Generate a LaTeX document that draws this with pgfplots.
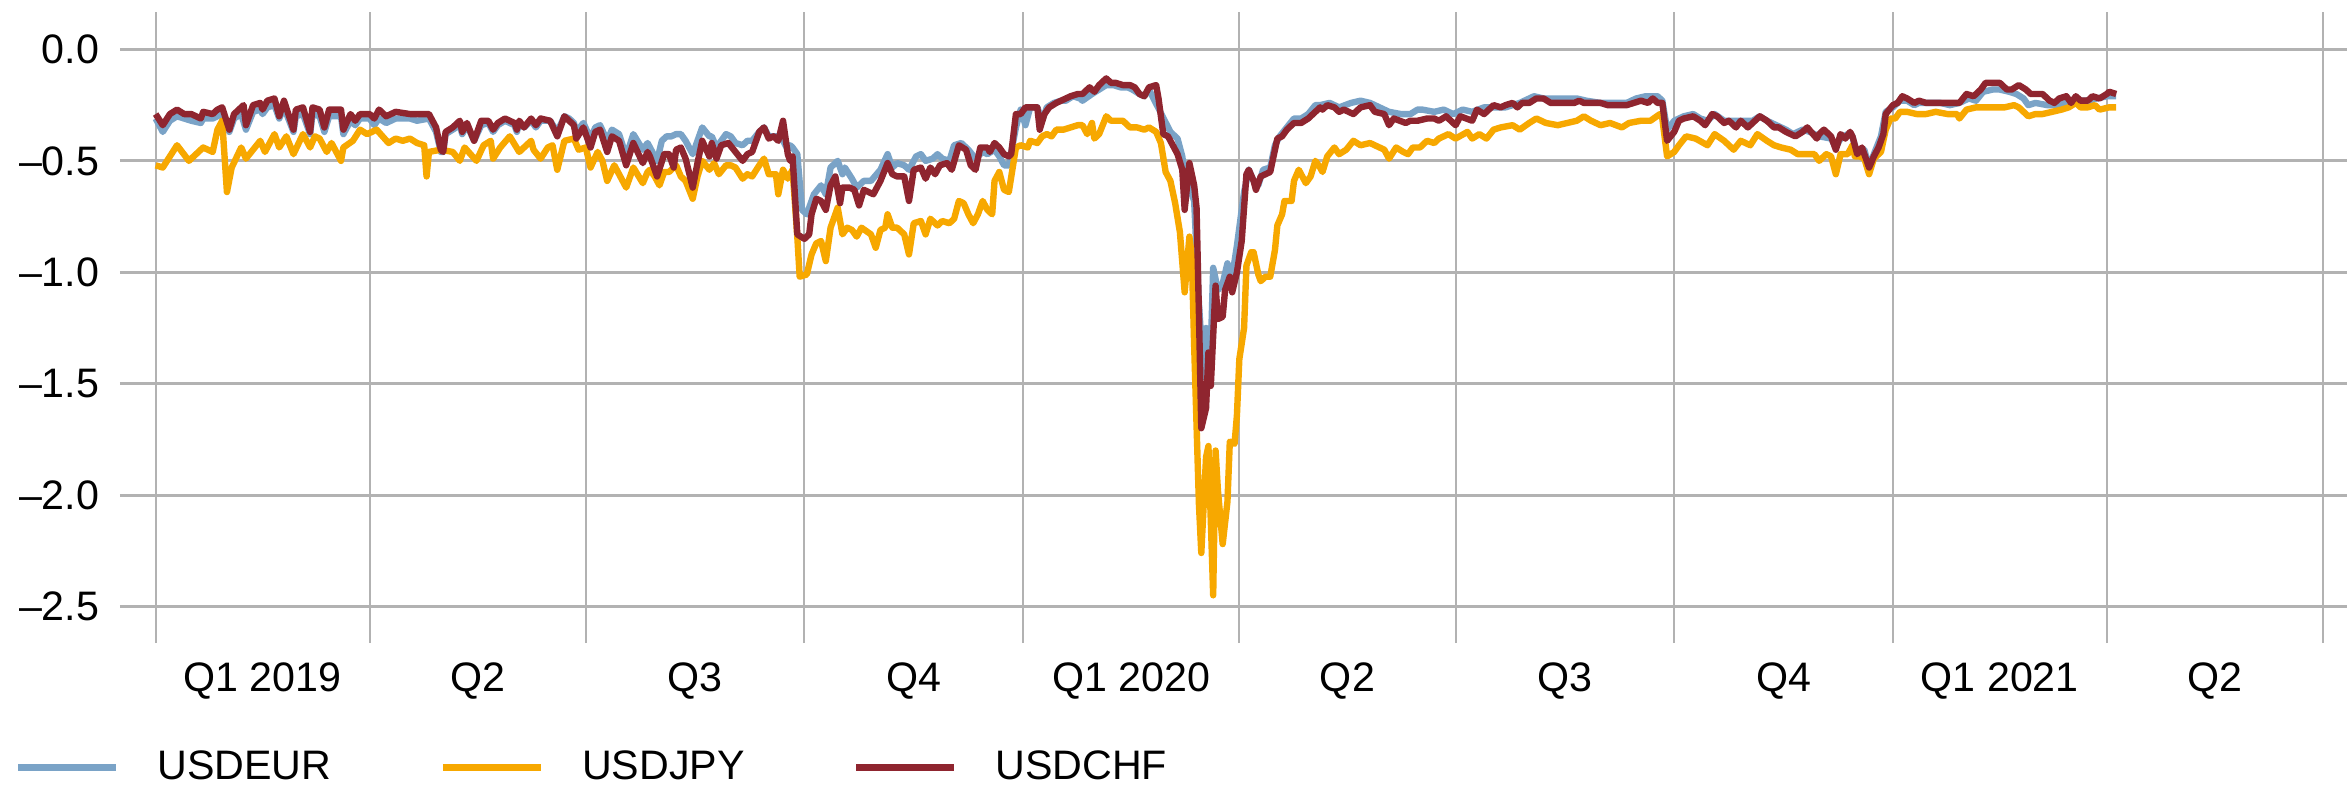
\documentclass[border=0pt]{standalone}
\usepackage{fontspec}
\setmainfont{Liberation Sans}
\usepackage{pgfplots}
\pgfplotsset{compat=1.18}
\definecolor{ceur}{RGB}{122,163,199}
\definecolor{cjpy}{RGB}{247,168,0}
\definecolor{cchf}{RGB}{143,37,47}
\definecolor{cgrid}{RGB}{178,178,178}
\begin{document}
\begin{tikzpicture}
\begin{axis}[
  at={(30pt,35.75pt)}, anchor=south west,
  scale only axis, width=556.75pt, height=157.75pt,
  xmin=-15, xmax=922.1, ymin=-2.664, ymax=0.168,
  axis line style={draw=none},
  major tick length=0pt, minor tick length=0pt,
  xtick={45,135.5,227,319,410.5,501.5,593,685,776,866.5},
  xticklabels={Q1 2019,Q2,Q3,Q4,Q1 2020,Q2,Q3,Q4,Q1 2021,Q2},
  minor xtick={0,90,181,273,365,456,547,639,731,821,912},
  xmajorgrids=false, xminorgrids=true,
  ytick={-2.5,-2,-1.5,-1,-0.5,0},
  yticklabels={–2.5,–2.0,–1.5,–1.0,–0.5,0.0},
  ymajorgrids=true,
  major grid style={draw=cgrid, line width=0.75pt},
  minor grid style={draw=cgrid, line width=0.5pt},
  tick label style={font=\fontsize{10.3}{12}\selectfont, inner sep=0pt},
  xticklabel style={anchor=north, yshift=-4.75pt},
  yticklabel style={anchor=east, xshift=-5pt},
  legend columns=3,
  legend style={at={(axis description cs:-0.04715,-0.1976)}, anchor=west,
    draw=none, fill=none, inner sep=0pt, outer sep=0pt,
    font=\fontsize{10.3}{12}\selectfont,
    nodes={inner sep=0pt},
    /tikz/every odd column/.append style={column sep=9.5pt},
    /tikz/every even column/.append style={column sep=27.1pt}},
  legend image code/.code={\draw[#1] (0pt,0pt) -- (24.5pt,0pt);},
  every axis plot/.append style={line width=1.6pt, line join=round},
]
\addplot[ceur] coordinates {
(0,-0.31)(3,-0.37)(6,-0.32)(9,-0.30)(12,-0.31)(15,-0.32)(19,-0.33)(20,-0.31)(24,-0.31)(26,-0.30)(28,-0.29)(31,-0.37)(33,-0.31)(36,-0.29)(38,-0.36)(41,-0.28)(44,-0.27)(45,-0.29)(47,-0.26)(50,-0.25)(52,-0.31)(54,-0.26)(58,-0.37)(59,-0.30)(62,-0.29)(65,-0.38)(66,-0.29)(69,-0.30)(71,-0.37)(73,-0.30)(78,-0.30)(79,-0.38)(82,-0.32)(84,-0.34)(86,-0.31)(90,-0.31)(92,-0.34)(94,-0.31)(97,-0.33)(101,-0.31)(107,-0.31)(110,-0.32)(115,-0.31)(118,-0.37)(120,-0.46)(121,-0.46)(122,-0.38)(125,-0.36)(128,-0.34)(129,-0.38)(131,-0.34)(134,-0.41)(137,-0.34)(140,-0.33)(142,-0.37)(144,-0.34)(147,-0.32)(151,-0.34)(152,-0.37)(153,-0.33)(155,-0.35)(158,-0.32)(160,-0.35)(162,-0.32)(166,-0.32)(169,-0.37)(172,-0.30)(174,-0.31)(176,-0.33)(177,-0.37)(180,-0.33)(183,-0.40)(185,-0.35)(187,-0.34)(190,-0.41)(192,-0.36)(195,-0.38)(198,-0.48)(201,-0.38)(205,-0.45)(207,-0.42)(208,-0.44)
(211,-0.50)(213,-0.41)(215,-0.39)(217,-0.39)(219,-0.38)(221,-0.38)(223,-0.41)(226,-0.47)(228,-0.41)(230,-0.35)(233,-0.39)(234,-0.39)(236,-0.44)(238,-0.41)(240,-0.38)(242,-0.39)(244,-0.42)(247,-0.43)(249,-0.41)(251,-0.41)(254,-0.37)(256,-0.35)(258,-0.39)(261,-0.39)(263,-0.39)(266,-0.45)(267,-0.43)(268,-0.44)(270,-0.47)(272,-0.72)(274,-0.74)(277,-0.65)(280,-0.61)(282,-0.65)(284,-0.53)(287,-0.50)(289,-0.56)(290,-0.53)(293,-0.58)(295,-0.62)(298,-0.59)(301,-0.59)(305,-0.54)(308,-0.47)(310,-0.53)(312,-0.51)(315,-0.52)(317,-0.54)(320,-0.48)(322,-0.47)(324,-0.50)(327,-0.49)(329,-0.47)(331,-0.49)(334,-0.50)(336,-0.43)(339,-0.42)(342,-0.45)(345,-0.49)(348,-0.46)(350,-0.47)(353,-0.45)(355,-0.48)(357,-0.52)(359,-0.52)(362,-0.35)(364,-0.27)(366,-0.34)(368,-0.26)(371,-0.26)(373,-0.32)(375,-0.26)(378,-0.24)(381,-0.23)(383,-0.23)(386,-0.21)(389,-0.22)(390,-0.23)(394,-0.20)(397,-0.18)(400,-0.16)(403,-0.16)(406,-0.17)(409,-0.17)(411,-0.18)(414,-0.20)(416,-0.21)(418,-0.18)
(427,-0.37)(430,-0.40)(432,-0.48)(433,-0.56)(437,-0.68)(439,-1.14)(441,-1.47)(442,-1.25)(444,-1.35)(445,-0.98)(447,-1.08)(449,-1.05)(451,-0.96)(453,-1.02)(455,-0.88)(458,-0.64)(460,-0.54)(462,-0.59)(464,-0.61)(466,-0.54)(469,-0.53)(471,-0.43)(473,-0.39)(476,-0.35)(479,-0.31)(482,-0.31)(485,-0.29)(488,-0.25)
(490,-0.25)(494,-0.24)(498,-0.26)(503,-0.24)(507,-0.23)(511,-0.24)(515,-0.26)(519,-0.28)(524,-0.29)(528,-0.29)(531,-0.27)(533,-0.27)(538,-0.28)(542,-0.27)(546,-0.29)(550,-0.27)(554,-0.28)(559,-0.26)(563,-0.26)(568,-0.26)(574,-0.24)(580,-0.21)(584,-0.22)(588,-0.22)(592,-0.22)(598,-0.22)(602,-0.23)(608,-0.24)(613,-0.24)(619,-0.24)(623,-0.22)(627,-0.21)(632,-0.21)(634,-0.23)(636,-0.36)(639,-0.32)(643,-0.30)(647,-0.29)(650,-0.31)(653,-0.32)(656,-0.29)(660,-0.32)(664,-0.32)(668,-0.32)(672,-0.32)(675,-0.30)(678,-0.32)(682,-0.34)(686,-0.36)(689,-0.38)(693,-0.36)(696,-0.37)(700,-0.39)
(705,-0.40)(707,-0.44)(709,-0.40)(712,-0.38)(714,-0.39)(716,-0.47)(719,-0.45)(721,-0.53)(723,-0.47)(726,-0.39)(728,-0.28)(731,-0.26)(734,-0.23)(737,-0.23)(740,-0.25)(742,-0.24)(747,-0.24)(751,-0.24)(755,-0.25)(759,-0.24)(763,-0.22)(766,-0.23)(769,-0.19)(773,-0.18)(776,-0.18)(780,-0.19)(783,-0.20)(786,-0.22)(788,-0.25)(791,-0.24)(796,-0.25)(800,-0.25)(804,-0.24)(808,-0.23)(813,-0.23)(817,-0.22)(821,-0.21)(825,-0.21)
};
\addlegendentry{USDEUR}
\addplot[cjpy] coordinates {
(0,-0.52)(3,-0.53)(9,-0.43)(14,-0.50)(20,-0.44)(24,-0.46)(26,-0.36)(28,-0.32)(30,-0.64)(32,-0.53)(36,-0.44)(38,-0.49)(41,-0.45)(44,-0.41)(46,-0.46)(50,-0.38)(52,-0.44)(55,-0.39)(58,-0.47)(62,-0.38)(65,-0.44)(67,-0.39)(69,-0.40)(72,-0.46)(74,-0.42)(78,-0.50)(79,-0.44)(83,-0.41)(86,-0.36)(89,-0.38)(93,-0.36)(98,-0.42)(101,-0.40)(104,-0.41)(107,-0.40)(110,-0.42)(113,-0.43)(114,-0.57)(115,-0.46)(120,-0.45)(125,-0.46)(128,-0.50)(130,-0.44)(135,-0.50)(138,-0.43)(141,-0.41)(142,-0.49)(145,-0.44)(149,-0.39)(153,-0.46)(158,-0.41)(159,-0.45)(162,-0.49)(165,-0.44)(167,-0.43)(169,-0.54)(172,-0.41)(176,-0.40)(178,-0.45)(181,-0.44)(183,-0.53)(186,-0.46)(188,-0.50)(190,-0.59)(193,-0.52)(195,-0.56)(198,-0.62)(201,-0.53)(205,-0.60)(207,-0.55)(208,-0.54)
(210,-0.57)(212,-0.61)(214,-0.55)(216,-0.55)(219,-0.52)(221,-0.57)(223,-0.59)(226,-0.67)(228,-0.57)(230,-0.50)(233,-0.54)(235,-0.51)(237,-0.56)(240,-0.52)(242,-0.52)(244,-0.53)(247,-0.58)(249,-0.56)(251,-0.57)(254,-0.52)(256,-0.49)(258,-0.56)(261,-0.56)(262,-0.65)(264,-0.54)(266,-0.58)(268,-0.54)(270,-0.84)(271,-1.02)(274,-1.01)(276,-0.92)(278,-0.87)(280,-0.86)(282,-0.95)(284,-0.80)(287,-0.71)(289,-0.83)(291,-0.80)(293,-0.81)(295,-0.84)(297,-0.80)(301,-0.83)(303,-0.89)(305,-0.81)(307,-0.80)(308,-0.74)(310,-0.80)(312,-0.80)(315,-0.83)(317,-0.92)(319,-0.78)(322,-0.77)(324,-0.83)(326,-0.76)(329,-0.79)(331,-0.77)(334,-0.78)(336,-0.76)(338,-0.68)(340,-0.69)(342,-0.74)(344,-0.78)(346,-0.74)(348,-0.68)(350,-0.72)(352,-0.74)(353,-0.59)(355,-0.55)(357,-0.63)(359,-0.64)(362,-0.44)(364,-0.43)(367,-0.44)(368,-0.41)(371,-0.42)(373,-0.39)(375,-0.38)(377,-0.39)(379,-0.36)(382,-0.36)(385,-0.35)(388,-0.34)(390,-0.34)(392,-0.38)(394,-0.33)(395,-0.40)(397,-0.38)(400,-0.30)(402,-0.32)(404,-0.32)(407,-0.32)(410,-0.35)(413,-0.35)(416,-0.36)(418,-0.35)
(421,-0.37)(423,-0.42)(425,-0.55)(427,-0.59)(429,-0.69)(431,-0.82)(433,-1.09)(435,-0.84)(436,-0.93)(437,-1.33)(439,-2.04)(440,-2.26)(442,-1.83)(443,-1.78)(445,-2.45)(446,-1.80)(447,-1.98)(449,-2.22)(451,-2.03)(452,-1.76)(454,-1.77)(455,-1.64)(456,-1.39)(458,-1.25)(459,-0.97)(461,-0.91)(462,-0.91)(464,-1.01)(465,-1.04)(467,-1.02)(469,-1.02)(471,-0.90)(472,-0.79)(474,-0.74)(475,-0.68)(478,-0.68)(479,-0.59)(481,-0.54)(484,-0.60)(486,-0.57)(488,-0.50)
(490,-0.53)(491,-0.55)(493,-0.48)(496,-0.44)(498,-0.47)(501,-0.45)(504,-0.41)(507,-0.43)(511,-0.42)(515,-0.44)(517,-0.45)(519,-0.49)(522,-0.44)(525,-0.46)(527,-0.47)(529,-0.44)(532,-0.44)(535,-0.41)(538,-0.42)(540,-0.40)(544,-0.38)(547,-0.40)(552,-0.37)(554,-0.40)(557,-0.38)(560,-0.40)(563,-0.36)(566,-0.35)(571,-0.34)(574,-0.36)(578,-0.33)(581,-0.31)(585,-0.33)(590,-0.34)(594,-0.33)(598,-0.32)(601,-0.30)(604,-0.32)(608,-0.34)(612,-0.33)(617,-0.35)(620,-0.33)(625,-0.32)(629,-0.32)(633,-0.29)(634,-0.31)(636,-0.48)(639,-0.46)(641,-0.43)(644,-0.39)(648,-0.40)(653,-0.43)(656,-0.38)(660,-0.41)(664,-0.45)(667,-0.41)(671,-0.43)(674,-0.38)(678,-0.41)(681,-0.43)(684,-0.44)(688,-0.45)(691,-0.47)(695,-0.47)(698,-0.47)(700,-0.50)
(703,-0.47)(705,-0.48)(707,-0.56)(709,-0.47)(712,-0.47)(714,-0.43)(715,-0.48)(717,-0.48)(719,-0.49)(721,-0.56)(723,-0.49)(726,-0.46)(728,-0.36)(730,-0.31)(732,-0.31)(734,-0.28)(737,-0.28)(741,-0.29)(745,-0.29)(749,-0.28)(754,-0.29)(758,-0.29)(759,-0.31)(762,-0.27)(766,-0.26)(770,-0.26)(775,-0.26)(778,-0.26)(782,-0.25)(784,-0.26)(788,-0.30)(791,-0.29)(794,-0.29)(798,-0.28)(802,-0.27)(805,-0.26)(808,-0.24)(810,-0.26)(813,-0.26)(816,-0.25)(818,-0.27)(822,-0.26)(825,-0.26)
};
\addlegendentry{USDJPY}
\addplot[cchf] coordinates {
(0,-0.29)(3,-0.34)(6,-0.29)(9,-0.27)(12,-0.29)(15,-0.29)(19,-0.31)(20,-0.28)(24,-0.29)(26,-0.27)(28,-0.26)(31,-0.36)(33,-0.29)(36,-0.26)(37,-0.25)(38,-0.34)(41,-0.25)(44,-0.24)(45,-0.27)(47,-0.23)(50,-0.22)(52,-0.30)(54,-0.23)(58,-0.36)(59,-0.27)(62,-0.26)(65,-0.37)(66,-0.26)(69,-0.27)(71,-0.35)(73,-0.27)(78,-0.27)(79,-0.36)(82,-0.29)(84,-0.32)(86,-0.29)(90,-0.29)(92,-0.31)(94,-0.27)(97,-0.30)(101,-0.28)(107,-0.29)(110,-0.29)(115,-0.29)(118,-0.35)(120,-0.45)(121,-0.46)(122,-0.37)(125,-0.35)(128,-0.32)(129,-0.37)(131,-0.33)(134,-0.41)(137,-0.32)(140,-0.32)(142,-0.36)(144,-0.33)(147,-0.31)(151,-0.33)(152,-0.36)(153,-0.32)(155,-0.35)(158,-0.31)(160,-0.34)(162,-0.31)(166,-0.32)(169,-0.39)(172,-0.30)(174,-0.32)(176,-0.34)(177,-0.40)(180,-0.35)(183,-0.44)(185,-0.37)(187,-0.36)(190,-0.46)(192,-0.39)(195,-0.41)(198,-0.52)(201,-0.42)(205,-0.51)(207,-0.46)(208,-0.48)
(211,-0.57)(214,-0.47)(216,-0.47)(218,-0.53)(219,-0.45)(221,-0.44)(223,-0.49)(226,-0.62)(228,-0.51)(230,-0.41)(233,-0.48)(234,-0.42)(236,-0.49)(238,-0.43)(241,-0.42)(244,-0.46)(247,-0.50)(249,-0.47)(251,-0.46)(254,-0.37)(256,-0.35)(258,-0.40)(260,-0.39)(262,-0.41)(264,-0.32)(266,-0.47)(267,-0.50)(268,-0.48)(270,-0.83)(273,-0.85)(275,-0.83)(276,-0.74)(278,-0.67)(280,-0.68)(282,-0.72)(284,-0.61)(286,-0.57)(288,-0.69)(289,-0.62)(292,-0.62)(294,-0.63)(296,-0.70)(298,-0.63)(300,-0.64)(302,-0.65)(305,-0.59)(308,-0.51)(310,-0.56)(312,-0.57)(315,-0.57)(317,-0.68)(319,-0.54)(322,-0.53)(324,-0.58)(326,-0.53)(328,-0.56)(330,-0.52)(333,-0.51)(335,-0.54)(338,-0.43)(341,-0.45)(343,-0.52)(345,-0.54)(347,-0.44)(350,-0.44)(351,-0.46)(353,-0.42)(355,-0.44)(357,-0.47)(359,-0.48)(360,-0.47)(362,-0.29)(364,-0.29)(366,-0.26)(368,-0.26)(371,-0.26)(372,-0.36)(374,-0.29)(376,-0.26)(379,-0.24)(381,-0.23)(385,-0.21)(388,-0.20)(390,-0.20)(393,-0.17)(395,-0.19)(397,-0.16)(400,-0.13)(402,-0.15)(404,-0.15)(407,-0.16)(410,-0.16)(412,-0.17)(414,-0.20)(416,-0.21)(418,-0.17)
(421,-0.16)(422,-0.22)(424,-0.38)(426,-0.39)(428,-0.43)(430,-0.47)(432,-0.54)(433,-0.72)(435,-0.51)(437,-0.61)(438,-0.71)(439,-1.18)(440,-1.70)(442,-1.61)(443,-1.36)(444,-1.51)(446,-1.06)(447,-1.21)(449,-1.20)(450,-1.08)(452,-1.02)(453,-1.09)(455,-1.00)(457,-0.86)(459,-0.56)(460,-0.54)(462,-0.59)(463,-0.63)(465,-0.57)(467,-0.56)(469,-0.55)(471,-0.45)(472,-0.40)(474,-0.39)(476,-0.36)(479,-0.33)(482,-0.33)(485,-0.31)(488,-0.28)
(490,-0.26)(491,-0.27)(493,-0.25)(496,-0.26)(498,-0.28)(500,-0.27)(504,-0.29)(507,-0.26)(511,-0.25)(513,-0.28)(517,-0.29)(519,-0.34)(521,-0.31)(526,-0.33)(528,-0.32)(531,-0.32)(535,-0.31)(538,-0.31)(540,-0.32)(543,-0.30)(547,-0.34)(549,-0.30)(554,-0.32)(556,-0.27)(559,-0.29)(563,-0.25)(566,-0.26)(568,-0.25)(571,-0.24)(573,-0.26)(575,-0.24)(578,-0.24)(581,-0.22)(584,-0.22)(587,-0.24)(590,-0.24)(593,-0.24)(597,-0.24)(599,-0.23)(601,-0.24)(604,-0.24)(608,-0.24)(611,-0.25)(615,-0.25)(619,-0.25)(622,-0.24)(625,-0.23)(628,-0.24)(630,-0.22)(632,-0.24)(634,-0.24)(636,-0.41)(639,-0.37)(641,-0.32)(643,-0.31)(647,-0.30)(650,-0.32)(652,-0.34)(655,-0.29)(657,-0.30)(660,-0.33)(662,-0.32)(665,-0.35)(667,-0.32)(670,-0.35)(672,-0.33)(675,-0.30)(678,-0.32)(681,-0.35)(683,-0.35)(686,-0.37)(690,-0.39)(693,-0.37)(695,-0.35)(699,-0.40)(700,-0.38)
(702,-0.36)(705,-0.39)(707,-0.45)(709,-0.38)(711,-0.40)(713,-0.37)(714,-0.39)(716,-0.47)(718,-0.44)(719,-0.47)(721,-0.53)(723,-0.48)(725,-0.44)(727,-0.38)(728,-0.29)(731,-0.25)(733,-0.24)(735,-0.21)(737,-0.22)(740,-0.24)(742,-0.23)(745,-0.24)(749,-0.24)(752,-0.24)(756,-0.24)(759,-0.24)(762,-0.20)(765,-0.21)(768,-0.18)(770,-0.15)(773,-0.15)(776,-0.15)(779,-0.18)(781,-0.18)(784,-0.16)(787,-0.18)(789,-0.20)(792,-0.20)(794,-0.20)(797,-0.23)(799,-0.24)(801,-0.22)(804,-0.21)(806,-0.24)(808,-0.21)(810,-0.23)(813,-0.23)(815,-0.21)(818,-0.22)(821,-0.20)(822,-0.19)(825,-0.20)
};
\addlegendentry{USDCHF}
\end{axis}
\pgfresetboundingbox
\path[use as bounding box] (0,0) rectangle (586.75pt,196.5pt);
\end{tikzpicture}
\end{document}
